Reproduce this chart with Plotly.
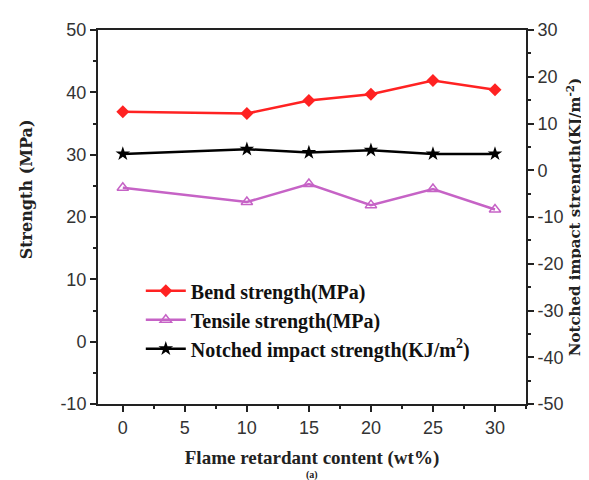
import plotly.graph_objects as go

content = [0, 10, 15, 20, 25, 30]
bend = [36.9, 36.6, 38.7, 39.7, 41.9, 40.4]
tensile = [24.7, 22.4, 25.3, 21.9, 24.5, 21.2]
impact = [3.5, 4.5, 3.8, 4.3, 3.5, 3.5]

x_ticks = [0, 5, 10, 15, 20, 25, 30]
y_ticks = [-10, 0, 10, 20, 30, 40, 50]
y2_ticks = [-50, -40, -30, -20, -10, 0, 10, 20, 30]

serif = "Liberation Serif"
wide_serif = "DejaVu Serif"
sans = "Liberation Sans"

fig = go.Figure()
fig.add_trace(go.Scatter(x=content, y=bend, name="<b>Bend strength(MPa)</b>", mode="lines+markers",
                         line=dict(color="#ff2222", width=2.5),
                         marker=dict(symbol="diamond", size=10, color="#ff2222")))
fig.add_trace(go.Scatter(x=content, y=tensile, name="<b>Tensile strength(MPa)</b>", mode="lines+markers",
                         line=dict(color="#c663c6", width=2.5),
                         marker=dict(symbol="triangle-up-open", size=10, color="#c663c6", line=dict(width=1.5))))
fig.add_trace(go.Scatter(x=content, y=impact, name="<b>Notched impact strength(KJ/m<sup>2</sup>)</b>", mode="lines+markers",
                         line=dict(color="black", width=2.5),
                         marker=dict(symbol="star", size=11, color="black"), yaxis="y2"))

tick_common = dict(ticks="outside", ticklen=6, tickwidth=1.5, tickcolor="#222", showline=True,
                   linecolor="#222", linewidth=2, showgrid=False, zeroline=False,
                   tickfont=dict(family=sans, size=18, color="#333"))

fig.update_layout(
    width=589, height=480,
    margin=dict(l=90, r=71, t=22, b=84),
    paper_bgcolor="white", plot_bgcolor="white",
    showlegend=True,
    legend=dict(x=0.1, y=0.355, xanchor="left", yanchor="top", bgcolor="rgba(0,0,0,0)",
                font=dict(family=serif, size=20, color="#111"), tracegroupgap=0, itemwidth=40),
    xaxis=dict(range=[-2, 32.5], tickvals=x_ticks, ticktext=[str(v) for v in x_ticks], mirror=True,
               minor=dict(dtick=2.5, tick0=0, ticks="outside", ticklen=3, tickcolor="#222"),
               title=dict(text="<b>Flame retardant content (wt%)</b>", font=dict(family=serif, size=19, color="#222"), standoff=14),
               **tick_common),
    yaxis=dict(range=[-10, 50], tickvals=y_ticks, ticktext=[str(v) for v in y_ticks],
               minor=dict(dtick=5, ticks="outside", ticklen=3, tickcolor="#222"),
               **tick_common),
    yaxis2=dict(range=[-50, 30], tickvals=y2_ticks, ticktext=[str(v) for v in y2_ticks], overlaying="y", side="right",
                minor=dict(dtick=5, ticks="outside", ticklen=3, tickcolor="#222"),
                title=dict(text="<b>Notched impact strength(KJ/m<sup>-2</sup>)</b>",
                           font=dict(family=wide_serif, size=15, color="#222"), standoff=2),
                **tick_common),
    annotations=[
        dict(text="<b>Strength (MPa)</b>", textangle=-90, x=-0.165, y=0.575, xref="paper", yref="paper",
             showarrow=False, font=dict(family=wide_serif, size=16, color="#222"), xanchor="center", yanchor="middle"),
        dict(text="<b>(a)</b>", x=0.5, y=-0.19, xref="paper", yref="paper", showarrow=False,
             font=dict(family=serif, size=10, color="#222"), xanchor="center", yanchor="middle"),
    ],
)

fig.write_html("out.html")
